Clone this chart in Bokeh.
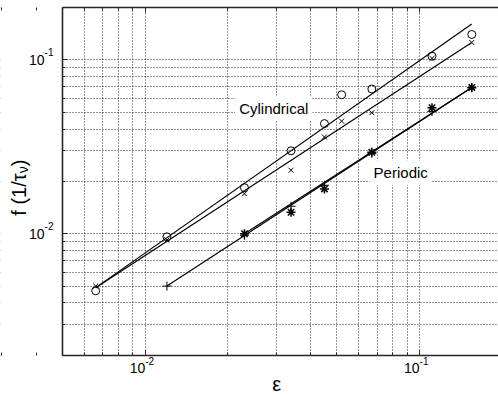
import math
from bokeh.plotting import figure
from bokeh.models import LogAxis, FixedTicker, Label, Range1d, BoxAnnotation
from bokeh.embed import file_html
from bokeh.resources import INLINE

# ---------------- data ----------------
eps_cyl = [0.0066, 0.012, 0.023, 0.034, 0.045, 0.052, 0.067, 0.111, 0.155]
f_cyl_o = [0.0047, 0.0096, 0.0184, 0.0300, 0.0430, 0.0630, 0.0680, 0.1050, 0.1400]
f_cyl_x = [0.0050, 0.0092, 0.0170, 0.0232, 0.0360, 0.0444, 0.0497, 0.1020, 0.1260]

eps_per_plus = [0.012, 0.023, 0.034, 0.045, 0.067, 0.111, 0.155]
f_per_plus = [0.0050, 0.0098, 0.0144, 0.0190, 0.0290, 0.0505, 0.0690]
eps_per_star = [0.023, 0.034, 0.045, 0.067, 0.111, 0.155]
f_per_star = [0.0100, 0.0133, 0.0181, 0.0294, 0.0531, 0.0694]

# power-law fit lines (end points)
fit_cyl_o_eps = [0.0066, 0.155]
fit_cyl_o_f = [0.0049, 0.161]
fit_cyl_x_eps = [0.0066, 0.155]
fit_cyl_x_f = [0.0049, 0.126]
fit_per_plus_eps = [0.012, 0.155]
fit_per_plus_f = [0.0050, 0.0694]
fit_per_star_eps = [0.023, 0.155]
fit_per_star_f = [0.0100, 0.0694]

x_tick_values = [0.01, 0.1]
x_tick_exps = ["-2", "-1"]
y_tick_values = [0.01, 0.1]
y_tick_exps = ["-2", "-1"]

series_labels = ["Cylindrical", "Periodic"]
x_label = "ε"

# ---------------- geometry ----------------
W, H = 498, 395
PAD = 1                     # size of the (label-less) axis panels
BOX_L, BOX_T, BOX_B = 63, 8, 354
DEC_X, DEC_Y = 273.8, 173.0  # pixels per decade
X0, Y0, Y1 = 0.005, 0.002, 0.2
lx0, ly0, ly1 = math.log10(X0), math.log10(Y0), math.log10(Y1)
x_start = 10 ** (lx0 - (BOX_L - PAD) / DEC_X)
x_end = 10 ** (lx0 + (W - BOX_L) / DEC_X)
y_end = 10 ** (ly1 + (BOX_T - PAD) / DEC_Y)
y_start = 10 ** (ly0 - (H - PAD - BOX_B) / DEC_Y)
X1 = x_end
FONT = "Liberation Sans"
AX_COL = "#262626"

p = figure(width=W, height=H, x_axis_type="log", y_axis_type="log",
           x_range=Range1d(x_start, x_end), y_range=Range1d(y_start, y_end),
           output_backend="svg", toolbar_location=None,
           min_border_left=0, min_border_right=0, min_border_top=0,
           min_border_bottom=0)
p.background_fill_color = "white"
p.border_fill_color = "white"
p.outline_line_color = None

major = [0.001, 0.01, 0.1, 1.0]
minor = [k * 10.0 ** n for n in (-4, -3, -2, -1) for k in range(2, 10)]
xt = FixedTicker(ticks=major, minor_ticks=minor)
yt = FixedTicker(ticks=major, minor_ticks=minor)

top = LogAxis()
p.add_layout(top, "above")

for ax in p.xaxis:
    ax.ticker = xt
    ax.bounds = (X0, X1)
for ax in p.yaxis:
    ax.ticker = yt
    ax.bounds = (Y0, Y1)
p.below[0].fixed_location = Y0
top.fixed_location = Y1
p.left[0].fixed_location = X0
for ax in list(p.xaxis) + list(p.yaxis):
    ax.major_label_text_font_size = "1px"
    ax.major_label_text_color = None
    ax.major_label_standoff = 0
    ax.major_tick_in = 5
    ax.major_tick_out = 0
    ax.minor_tick_in = 3
    ax.minor_tick_out = 0
    ax.axis_line_color = AX_COL
    ax.axis_line_width = 1.6
    ax.major_tick_line_color = AX_COL
    ax.minor_tick_line_color = AX_COL
    ax.level = "overlay"

for g, t in ((p.xgrid, xt), (p.ygrid, yt)):
    g.ticker = t
    g.grid_line_color = "black"
    g.grid_line_dash = "1 2"
    g.grid_line_alpha = 0.85
    g.grid_line_width = 1
    g.minor_grid_line_color = "black"
    g.minor_grid_line_dash = "1 2"
    g.minor_grid_line_alpha = 0.85
    g.minor_grid_line_width = 1

# white margins outside the axes box
for kw in (dict(right=X0), dict(top=Y0), dict(bottom=Y1)):
    p.add_layout(BoxAnnotation(fill_color="white", fill_alpha=1.0, line_color=None,
                               level="annotation", **kw))

# fit lines
for xs, ys in ((fit_cyl_o_eps, fit_cyl_o_f), (fit_cyl_x_eps, fit_cyl_x_f),
               (fit_per_plus_eps, fit_per_plus_f), (fit_per_star_eps, fit_per_star_f)):
    p.line(xs, ys, line_color="black", line_width=1.2)

# markers
p.scatter(eps_cyl, f_cyl_o, marker="circle", size=8, fill_color=None,
          line_color="black", line_width=1)
p.scatter(eps_cyl, f_cyl_x, marker="x", size=7, line_color="black", line_width=1)
p.scatter(eps_per_plus, f_per_plus, marker="cross", size=9, line_color="black", line_width=1)
p.scatter(eps_per_star, f_per_star, marker="asterisk", size=9, line_color="black", line_width=1.5)


def lab(**kw):
    kw.setdefault("text_font", FONT)
    kw.setdefault("text_color", "black")
    kw.setdefault("level", "overlay")
    p.add_layout(Label(**kw))


# series labels (white boxes interrupt the grid, as in the original)
TP = 4
lab(x=0.0220, y=0.0500, x_offset=-TP, y_offset=TP, text=series_labels[0],
    text_font_size="15px", text_baseline="alphabetic",
    background_fill_color="white", padding=TP)
lab(x=0.0680, y=0.0213, x_offset=-TP, y_offset=TP, text=series_labels[1],
    text_font_size="15px", text_baseline="alphabetic",
    background_fill_color="white", padding=TP)

# tick labels: "10" with a raised exponent
for v, e in zip(x_tick_values, x_tick_exps):
    lab(x=v, y=Y0, y_offset=-12.5, text="10", text_font_size="14px",
        text_align="right", text_baseline="middle")
    lab(x=v, y=Y0, y_offset=-5.5, text=e, text_font_size="10px",
        text_align="left", text_baseline="middle")
for v, e in zip(y_tick_values, y_tick_exps):
    lab(x=X0, y=v, x_offset=-18, text="10", text_font_size="14px",
        text_align="right", text_baseline="middle")
    lab(x=X0, y=v, x_offset=-18, y_offset=7.5, text=e, text_font_size="10px",
        text_align="left", text_baseline="middle")

# axis labels
lab(x=X0, y=Y0, x_offset=214, y_offset=-29, text=x_label, text_font_size="20px",
    text_align="center", text_baseline="middle")
ANG = math.pi / 2
lab(x=X0, y=Y0, x_offset=-44, y_offset=182, text="f (1/τ", text_font_size="20px",
    angle=ANG, text_align="right", text_baseline="middle")
lab(x=X0, y=Y0, x_offset=-40, y_offset=182, text="ν", text_font_size="14px",
    angle=ANG, text_align="left", text_baseline="middle")
lab(x=X0, y=Y0, x_offset=-44, y_offset=189, text=")", text_font_size="20px",
    angle=ANG, text_align="left", text_baseline="middle")

open("out.html", "w").write(file_html(p, INLINE))
